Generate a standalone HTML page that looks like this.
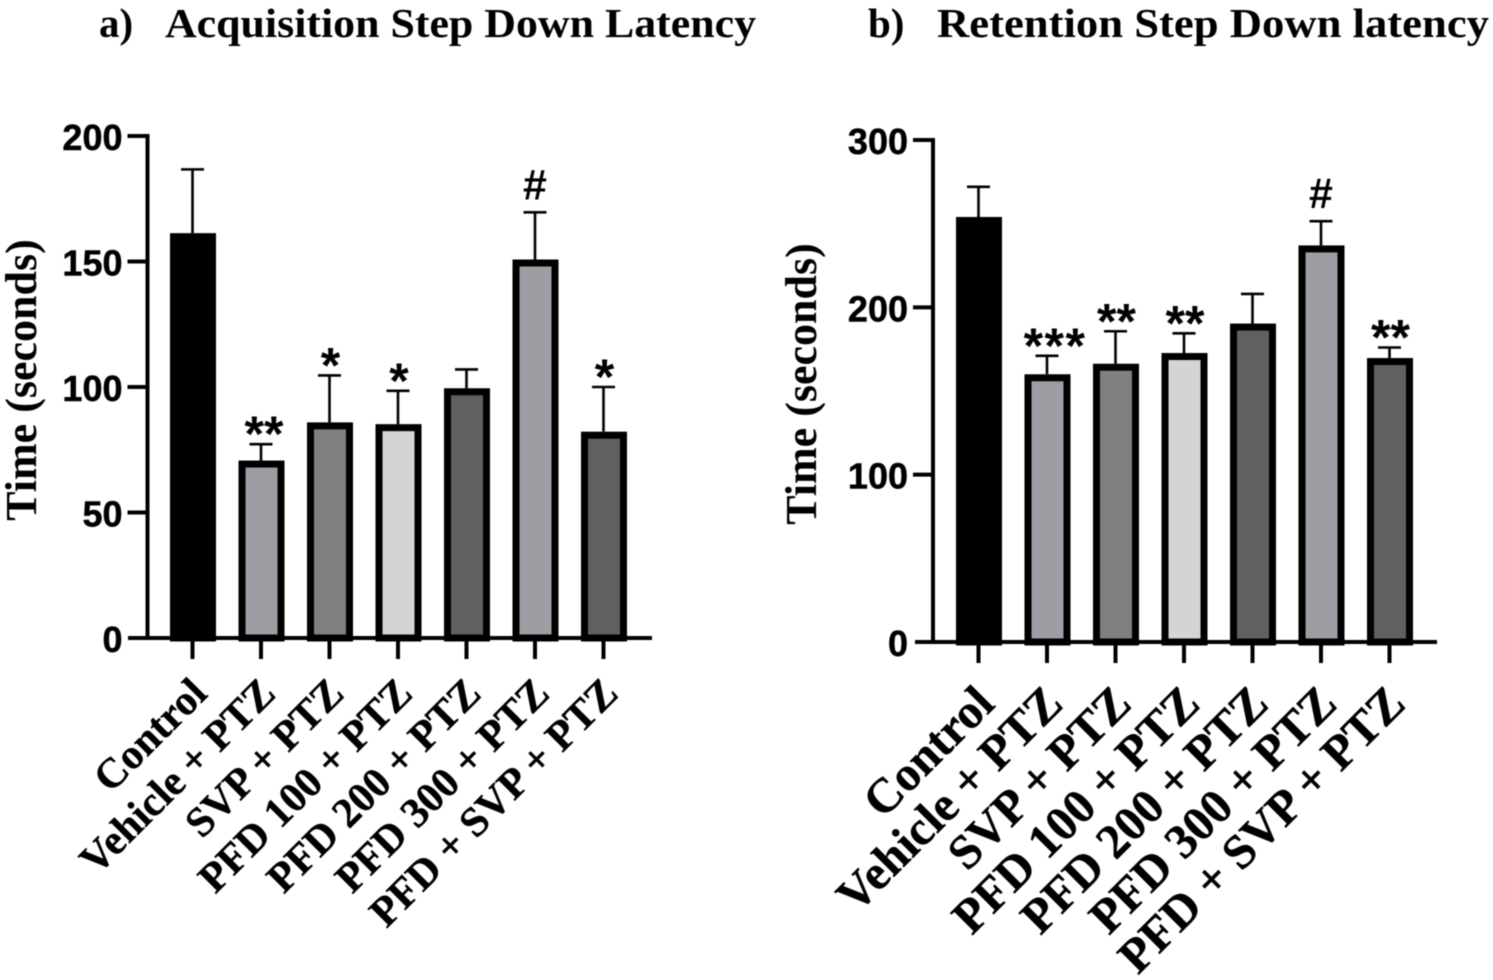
<!DOCTYPE html>
<html>
<head>
<meta charset="utf-8">
<title>Step Down Latency</title>
<style>
html,body{margin:0;padding:0;background:#fff;width:1493px;height:980px;overflow:hidden}
svg{display:block;filter:blur(0.5px)}
.title{font:bold 41px "Liberation Serif",serif;fill:#000}
.ytick{font:bold 36px "Liberation Sans",sans-serif;fill:#000;text-anchor:end;stroke:#000;stroke-width:.5px}
.ylab{font:bold 44px "Liberation Serif",serif;fill:#000;text-anchor:middle}
.xlab{font-family:"Liberation Serif",serif;font-weight:bold;fill:#000;text-anchor:end;stroke:#000;stroke-width:.4px}
.star{font:bold 50px "Liberation Sans",sans-serif;fill:#000;text-anchor:middle}
.hash{font:bold 43px "Liberation Sans",sans-serif;fill:#000;text-anchor:middle}
</style>
</head>
<body>
<svg id="chart" xmlns="http://www.w3.org/2000/svg" width="1493" height="980" viewBox="0 0 1493 980">
  <text class="title" x="99" y="37">a)</text>
  <text class="title" x="165" y="37" textLength="591" lengthAdjust="spacingAndGlyphs">Acquisition Step Down Latency</text>
  <text class="title" x="868" y="37">b)</text>
  <text class="title" x="937" y="37" textLength="552" lengthAdjust="spacingAndGlyphs">Retention Step Down latency</text>
</svg>
<script>
const categories = ["Control", "Vehicle + PTZ", "SVP + PTZ", "PFD 100 + PTZ", "PFD 200 + PTZ", "PFD 300 + PTZ", "PFD + SVP + PTZ"];
const fills = ["#000000", "#9e9da3", "#808080", "#d4d4d4", "#606060", "#9e9da3", "#606060"];
const acquisitionMeans = [161.3, 70.7, 85.9, 85.2, 99.5, 150.8, 82.2];
const acquisitionErrors = [25.4, 6.5, 18.7, 13.3, 7.5, 18.8, 17.8];
const acquisitionMarks = ["", "**", "*", "*", "", "#", "*"];
const acquisitionTicks = [0, 50, 100, 150, 200];
const retentionMeans = [254, 160, 166.3, 172.7, 190.3, 237, 169.7];
const retentionErrors = [18, 11, 19.4, 11.8, 17.7, 14.5, 6.3];
const retentionMarks = ["", "***", "**", "**", "", "#", "**"];
const retentionTicks = [0, 100, 200, 300];

const NS = 'http://www.w3.org/2000/svg';
const svg = document.getElementById('chart');

function make(tag, attrs, parent) {
  const el = document.createElementNS(NS, tag);
  for (const k in attrs) el.setAttribute(k, attrs[k]);
  parent.appendChild(el);
  return el;
}

function drawPanel(cfg) {
  const root = make('g', {}, svg);
  
  
  const y = v => cfg.y0 - (v / cfg.yMax) * (cfg.y0 - cfg.yTop);
  const x = i => cfg.x0 + i * cfg.step;

  cfg.means.forEach((m, i) => {
    const cx = x(i), top = y(m), errTop = y(m + cfg.errors[i]);
    const err = make('path', {d: `M${cx} ${top} V${errTop} M${cx - 11.5} ${errTop} H${cx + 11.5}`, stroke: '#000', 'stroke-width': 2.6, fill: 'none'}, root);
    
    
    const sw = 7, w = 46;
    const bar = make('rect', {x: cx - w / 2 + sw / 2 + 0.5, y: top + sw / 2, width: w - sw, height: cfg.y0 - top - sw / 2, fill: fills[i], stroke: '#000', 'stroke-width': sw}, root);
    
    
    const tick = make('line', {x1: cx, x2: cx, y1: cfg.y0, y2: cfg.y0 + 21, stroke: '#000', 'stroke-width': 4}, root);
    
    
    const lab = make('text', {class: 'xlab', 'font-size': cfg.xFont, transform: `translate(${cx + cfg.xlabDx},${cfg.y0 + cfg.xlabDy}) rotate(-45)`}, root);
    lab.textContent = categories[i];
    
    
    const mark = cfg.marks[i];
    if (mark === '#') {
      const t = make('text', {class: 'hash', x: cx, y: errTop - 13}, root);
      t.textContent = mark;
      
      
    } else if (mark) {
      const t = make('text', {class: 'star', x: cx + (cfg.markShift[mark] || 0), y: errTop + 7, 'letter-spacing': mark.length === 3 ? 1.5 : 0}, root);
      t.textContent = mark;
      
      
    }
  });

  const yAxis = make('line', {x1: cfg.axisX, x2: cfg.axisX, y1: cfg.yTop - 2, y2: cfg.y0 + 2, stroke: '#000', 'stroke-width': 4}, root);
  
  
  const xAxis = make('line', {x1: cfg.xStart, x2: cfg.xEnd, y1: cfg.y0, y2: cfg.y0, stroke: '#000', 'stroke-width': 4}, root);
  
  

  cfg.ticks.forEach(v => {
    const ty = y(v);
    if (v !== 0) {
      const t = make('line', {x1: cfg.axisX - 20, x2: cfg.axisX, y1: ty, y2: ty, stroke: '#000', 'stroke-width': 4}, root);
      
      
    }
    const l = make('text', {class: 'ytick', x: cfg.axisX - 25, y: ty + 14}, root);
    l.textContent = v;
    
    
  });

  const title = make('text', {class: 'ylab', transform: `translate(${cfg.ylabX},${cfg.ylabY}) rotate(-90)`}, root);
  title.textContent = 'Time (seconds)';
  
  
}

drawPanel({name: 'acquisition-chart', means: acquisitionMeans, errors: acquisitionErrors, marks: acquisitionMarks, ticks: acquisitionTicks,
  yMax: 200, y0: 638, yTop: 136, axisX: 147.5, xStart: 128, xEnd: 652, x0: 192.5, step: 68.5, ylabX: 36, ylabY: 380,
  xFont: 42, xlabDx: 16.5, xlabDy: 57.5, markShift: {"**": 3, "*": 1}});
drawPanel({name: 'retention-chart', means: retentionMeans, errors: retentionErrors, marks: retentionMarks, ticks: retentionTicks,
  yMax: 300, y0: 642, yTop: 140, axisX: 933, xStart: 915, xEnd: 1437, x0: 978.5, step: 68.5, ylabX: 816, ylabY: 384,
  xFont: 48.5, xlabDx: 18, xlabDy: 64, markShift: {"***": 8, "**": 1}});
</script>
</body>
</html>
